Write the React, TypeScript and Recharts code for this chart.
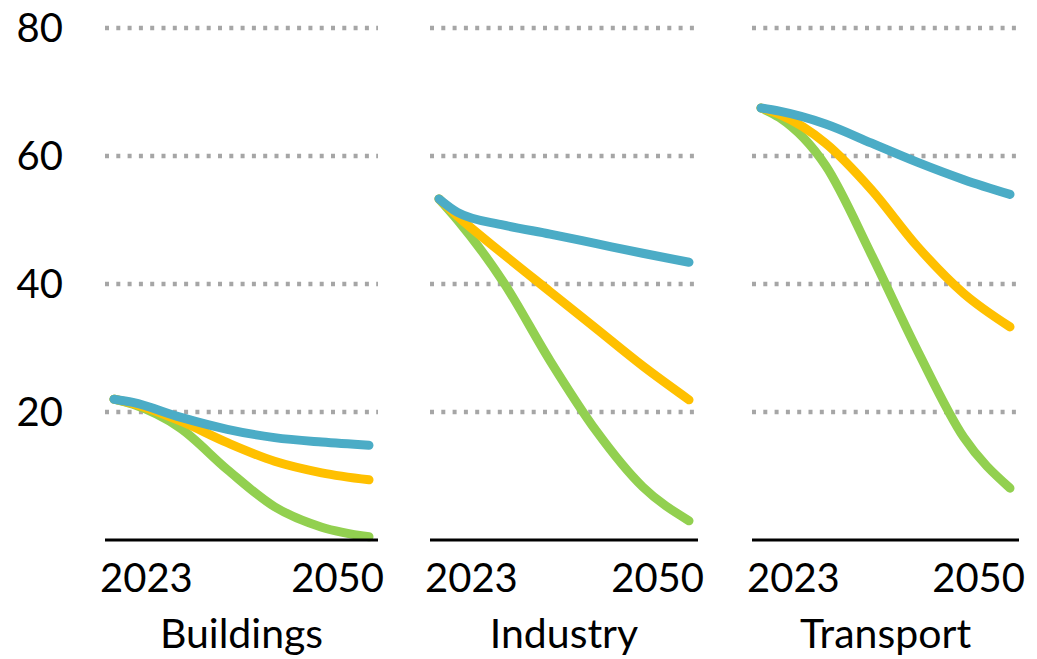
import React from 'react';
import { LineChart, Line, XAxis, YAxis, ReferenceLine } from 'recharts';

const years = [2023, 2025, 2030, 2035, 2040, 2045, 2050];
const yTicks = [20, 40, 60, 80];
const xTicks = [2023, 2050];
const categories = ['Buildings', 'Industry', 'Transport'];

const buildingsBlue = [22, 21.5, 19.2, 17.3, 16.0, 15.3, 14.8];
const buildingsOrange = [22, 21.3, 18.6, 15.2, 12.3, 10.5, 9.4];
const buildingsGreen = [22, 21.2, 17.5, 11.0, 5.2, 2.0, 0.5];

const industryBlue = [53.3, 51.2, 49.2, 47.8, 46.3, 44.8, 43.4];
const industryOrange = [53.3, 50.6, 44.6, 38.8, 33.0, 27.2, 21.9];
const industryGreen = [53.3, 50.0, 40.2, 28.0, 17.0, 8.3, 3.0];

const transportBlue = [67.5, 67.0, 65.0, 62.0, 59.0, 56.3, 54.0];
const transportOrange = [67.5, 66.5, 62.0, 54.7, 45.8, 38.5, 33.3];
const transportGreen = [67.5, 66.0, 58.5, 44.5, 29.5, 16.0, 8.1];

const seriesByPanel = [
  [buildingsBlue, buildingsOrange, buildingsGreen],
  [industryBlue, industryOrange, industryGreen],
  [transportBlue, transportOrange, transportGreen],
];

const BLUE = '#4BACC6';
const ORANGE = '#FFC000';
const GREEN = '#92D050';
const FONT = 'Lato, "Open Sans", sans-serif';

const makeData = (s: number[][]) =>
  years.map((y, i) => ({ year: y, blue: s[0][i], orange: s[1][i], green: s[2][i] }));

const YearTick = (props: any) => {
  const { x, y, payload } = props;
  const first = payload.value === 2023;
  return (
    <text
      x={first ? x - 14 : x + 15}
      y={y + 52}
      textAnchor={first ? 'start' : 'end'}
      fontFamily={FONT}
      fontSize={40}
      fill="#000"
    >
      {payload.value}
    </text>
  );
};

const PAD = 24;
const panels = [
  { left: 0, width: 378 + PAD, ml: 0, yAxis: true },
  { left: 430 - PAD, width: 268 + 2 * PAD, ml: PAD, yAxis: false },
  { left: 752 - PAD, width: 267 + 2 * PAD, ml: PAD, yAxis: false },
];

export default function App() {
  return (
    <div style={{ position: 'absolute', left: 0, top: 0, width: 1037, height: 659, background: '#fff', overflow: 'hidden' }}>
      {panels.map((p, idx) => (
        <div key={idx} style={{ position: 'absolute', left: p.left, top: 0 }}>
          <LineChart
            width={p.width}
            height={659}
            data={makeData(seriesByPanel[idx])}
            margin={{ top: 28, right: PAD, bottom: 0, left: p.ml }}
          >
            <YAxis
              type="number"
              domain={[0, 80]}
              ticks={yTicks}
              hide={!p.yAxis}
              width={p.yAxis ? 105 : 0}
              axisLine={false}
              tickLine={false}
              tickSize={0}
              tickMargin={42}
              tick={{ fontFamily: FONT, fontSize: 40, fill: '#000' }}
            />
            <XAxis
              dataKey="year"
              type="number"
              domain={[2023, 2050]}
              ticks={xTicks}
              padding={{ left: 9, right: 9 }}
              height={119}
              axisLine={{ stroke: '#000', strokeWidth: 3 }}
              tickLine={false}
              tickSize={0}
              tickMargin={0}
              tick={<YearTick />}
              interval={0}
              label={{
                value: categories[idx],
                position: 'insideBottom',
                offset: 11,
                fontFamily: FONT,
                fontSize: 41,
                fill: '#000',
              }}
            />
            {yTicks.map((t) => (
              <ReferenceLine key={t} y={t} stroke="#A6A6A6" strokeWidth={4.5} strokeDasharray="4 7.3" />
            ))}
            <Line type="monotone" dataKey="green" stroke={GREEN} strokeWidth={9} dot={false} strokeLinecap="round" isAnimationActive={false} />
            <Line type="monotone" dataKey="orange" stroke={ORANGE} strokeWidth={9} dot={false} strokeLinecap="round" isAnimationActive={false} />
            <Line type="monotone" dataKey="blue" stroke={BLUE} strokeWidth={9} dot={false} strokeLinecap="round" isAnimationActive={false} />
          </LineChart>
        </div>
      ))}
    </div>
  );
}
